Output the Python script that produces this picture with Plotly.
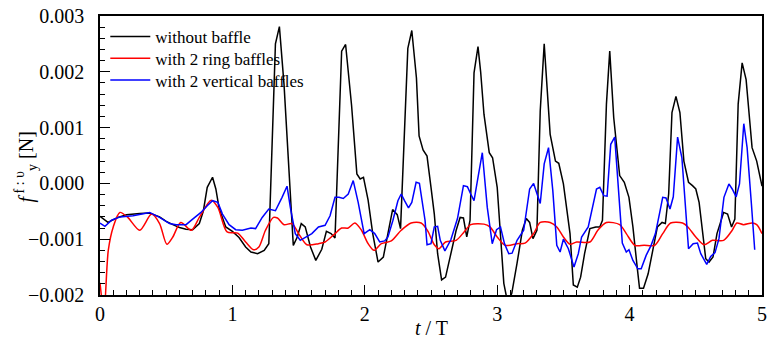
import numpy as np
import plotly.graph_objects as go

# ---------------- data (force in units of 1e-3 N) ----------------
t_without = [0.00, 0.06, 0.135, 0.20, 0.30, 0.37, 0.45, 0.50, 0.55, 0.60, 0.65, 0.70, 0.75, 0.78, 0.81,
             0.85, 0.875, 0.90, 0.95, 1.00, 1.05, 1.10, 1.14, 1.19, 1.24, 1.275, 1.325, 1.355, 1.39, 1.425,
             1.46, 1.49, 1.52, 1.55, 1.59, 1.63, 1.675, 1.71, 1.745, 1.775, 1.825, 1.855, 1.90, 1.94, 1.965,
             1.99, 2.025, 2.06, 2.10, 2.14, 2.175, 2.21, 2.245, 2.27, 2.325, 2.355, 2.39, 2.41, 2.44, 2.47,
             2.50, 2.525, 2.55, 2.58, 2.61, 2.65, 2.69, 2.72, 2.745, 2.77, 2.795, 2.825, 2.855, 2.875, 2.90,
             2.94, 2.965, 3.00, 3.05, 3.08, 3.11, 3.15, 3.19, 3.22, 3.245, 3.27, 3.30, 3.325, 3.355, 3.40,
             3.44, 3.465, 3.50, 3.55, 3.575, 3.605, 3.63, 3.66, 3.70, 3.745, 3.775, 3.795, 3.825, 3.85, 3.88,
             3.925, 3.96, 3.995, 4.025, 4.06, 4.075, 4.105, 4.14, 4.175, 4.21, 4.245, 4.27, 4.295, 4.32, 4.35,
             4.38, 4.41, 4.445, 4.475, 4.50, 4.525, 4.55, 4.575, 4.60, 4.63, 4.66, 4.71, 4.74, 4.77, 4.795,
             4.82, 4.85, 4.88, 4.925, 4.96, 5.00]
f_without = [-0.59, -0.70, -0.61, -0.56, -0.54, -0.53, -0.60, -0.68, -0.74, -0.79, -0.82, -0.83, -0.72, -0.50, -0.07,
             0.11, -0.10, -0.45, -0.78, -0.86, -0.97, -1.14, -1.23, -1.26, -1.20, -1.08, 2.50, 2.81, 1.77, 0.30,
             -1.11, -0.96, -0.72, -0.78, -1.14, -1.38, -1.18, -0.86, -0.90, -0.98, 2.37, 2.49, 1.40, 0.17, 0.08,
             0.11, -0.30, -0.90, -1.41, -1.32, -0.90, -0.47, -0.56, -0.81, 2.42, 2.74, 1.89, 0.85, 0.60, 0.49,
             -0.07, -0.55, -1.26, -1.73, -1.68, -1.26, -0.84, -0.61, -0.62, -0.96, -0.66, 1.98, 2.45, 2.00, 1.24,
             0.55, 0.46, -0.07, -1.79, -2.15, -1.97, -1.43, -0.84, -0.63, -0.70, -0.99, -0.84, 1.30, 2.50, 0.88,
             0.40, 0.36, -0.01, -0.90, -1.82, -1.86, -1.68, -1.26, -0.81, -0.78, -0.78, -0.66, 1.42, 2.37, 1.18,
             0.14, 0.02, -0.25, -0.78, -1.56, -1.88, -1.88, -1.62, -1.20, -0.78, -0.70, -0.72, -0.19, 1.27, 1.56,
             1.27, 0.40, 0.02, -0.04, -0.10, -0.34, -0.90, -1.35, -1.41, -1.32, -0.90, -0.52, -0.55, -0.78, -0.64,
             1.42, 2.16, 1.86, 0.64, 0.40, -0.05]

t_ring = [0.00, 0.03, 0.0625, 0.10, 0.15, 0.21, 0.30, 0.39, 0.45, 0.505, 0.55, 0.61, 0.69, 0.75, 0.84, 0.89,
          0.96, 1.04, 1.10, 1.16, 1.20, 1.25, 1.31, 1.34, 1.39, 1.45, 1.50, 1.5625, 1.65, 1.70, 1.775, 1.825,
          1.875, 1.925, 1.975, 2.025, 2.07, 2.125, 2.20, 2.275, 2.35, 2.425, 2.475, 2.525, 2.56, 2.61, 2.69,
          2.75, 2.80, 2.90, 2.945, 3.00, 3.06, 3.15, 3.21, 3.275, 3.325, 3.40, 3.45, 3.50, 3.55, 3.60, 3.70,
          3.76, 3.825, 3.925, 3.975, 4.04, 4.11, 4.19, 4.25, 4.31, 4.40, 4.44, 4.50, 4.5625, 4.625, 4.71,
          4.775, 4.81, 4.86, 4.925, 4.96, 5.00]
f_ring = [-1.78, -2.30, -1.20, -0.78, -0.52, -0.61, -0.84, -0.55, -0.72, -1.09, -0.96, -0.70, -0.84, -0.61, -0.30, -0.43,
          -0.87, -0.89, -1.05, -1.19, -1.14, -0.84, -0.61, -0.62, -0.74, -0.72, -0.90, -1.10, -1.08, -1.05, -0.90, -0.80,
          -0.80, -0.71, -0.84, -1.08, -1.20, -1.08, -1.03, -0.84, -0.71, -0.71, -0.85, -1.10, -1.17, -1.05, -1.02,
          -0.87, -0.74, -0.73, -0.78, -0.96, -1.11, -1.08, -1.07, -0.90, -0.70, -0.70, -0.78, -0.96, -1.09, -1.05, -1.05,
          -0.84, -0.70, -0.74, -0.90, -1.11, -1.11, -1.11, -0.90, -0.71, -0.71, -0.78, -0.96, -1.10, -1.02, -1.02,
          -0.84, -0.71, -0.74, -0.71, -0.74, -0.90]

t_vertical = [0.00, 0.0375, 0.0875, 0.15, 0.25, 0.375, 0.45, 0.525, 0.575, 0.65, 0.70, 0.7625, 0.81, 0.85, 0.89,
              0.925, 0.975, 1.025, 1.075, 1.14, 1.175, 1.225, 1.275, 1.325, 1.375, 1.4125, 1.4375, 1.475, 1.5125,
              1.55, 1.60, 1.65, 1.70, 1.7375, 1.775, 1.805, 1.8375, 1.875, 1.9125, 1.95, 1.995, 2.0375, 2.075,
              2.1125, 2.15, 2.175, 2.2125, 2.25, 2.275, 2.30, 2.33, 2.355, 2.3875, 2.4125, 2.455, 2.47, 2.50,
              2.525, 2.55, 2.57, 2.605, 2.65, 2.70, 2.745, 2.775, 2.80, 2.825, 2.855, 2.8875, 2.925, 2.9625,
              2.995, 3.025, 3.055, 3.0875, 3.1125, 3.15, 3.20, 3.245, 3.275, 3.30, 3.325, 3.355, 3.3875, 3.42,
              3.45, 3.475, 3.50, 3.5375, 3.58, 3.6125, 3.6375, 3.6875, 3.72, 3.75, 3.775, 3.805, 3.83, 3.8575,
              3.8875, 3.9125, 3.945, 3.975, 3.995, 4.025, 4.0625, 4.0875, 4.125, 4.1625, 4.195, 4.225, 4.25,
              4.275, 4.305, 4.33, 4.3625, 4.395, 4.445, 4.48, 4.5125, 4.5375, 4.5825, 4.6125, 4.645, 4.675,
              4.7125, 4.75, 4.775, 4.805, 4.83, 4.8625, 4.8875, 4.92, 4.945]
f_vertical = [-0.71, -0.77, -0.66, -0.60, -0.58, -0.52, -0.61, -0.72, -0.74, -0.74, -0.64, -0.52, -0.40, -0.31, -0.34,
              -0.55, -0.74, -0.83, -0.84, -0.80, -0.81, -0.61, -0.46, -0.49, -0.25, -0.05, -0.43, -0.90, -1.02,
              -0.97, -0.90, -0.78, -0.75, -0.58, -0.25, -0.25, -0.27, -0.19, 0.05, -0.34, -0.90, -0.83, -0.90,
              -1.05, -1.03, -0.96, -0.66, -0.31, -0.19, -0.31, -0.44, -0.34, 0.02, 0.00, -0.66, -1.10, -1.08,
              -0.78, -0.77, -1.02, -1.21, -1.01, -0.63, -0.04, -0.06, -0.19, -0.31, 0.11, 0.55, -0.43, -1.08,
              -0.83, -0.78, -1.08, -1.26, -1.25, -1.02, -0.84, -0.10, 0.00, -0.19, -0.36, 0.35, 0.64, -0.13,
              -1.11, -1.23, -1.00, -1.17, -1.50, -1.26, -0.96, -0.78, -0.43, -0.10, -0.07, -0.22, -0.23, 0.70,
              0.83, -0.07, -1.07, -1.23, -1.19, -1.38, -1.53, -1.53, -1.29, -1.11, -0.90, -0.55, -0.25,
              -0.26, -0.46, -0.24, 0.83, 0.46, -1.17, -1.08, -1.07, -1.26, -1.45, -1.31, -1.24, -0.99,
              -0.25, -0.01, -0.10, -0.24, -0.01, 1.07, 0.64, -0.37, -1.19]

series_names = ["without baffle", "with 2 ring baffles", "with 2 vertical baffles"]
x_ticks = [0, 1, 2, 3, 4, 5]
y_ticks = [-0.002, -0.001, 0.000, 0.001, 0.002, 0.003]

MILLI = 1e-3
FONT = '"Liberation Serif", "Times New Roman", Times, serif'

fig = go.Figure()
fig.add_trace(go.Scatter(x=t_without, y=np.array(f_without) * MILLI, mode="lines",
                         name=series_names[0], legend="legend",
                         line=dict(color="black", width=1.5)))
fig.add_trace(go.Scatter(x=t_ring, y=np.array(f_ring) * MILLI, mode="lines",
                         name=series_names[1], legend="legend2",
                         line=dict(color="#ff0000", width=1.5, shape="spline", smoothing=0.8)))
fig.add_trace(go.Scatter(x=t_vertical, y=np.array(f_vertical) * MILLI, mode="lines",
                         name=series_names[2], legend="legend3",
                         line=dict(color="#0000ff", width=1.5)))

leg_font = dict(family=FONT, size=17, color="black")
leg_common = dict(x=0.008, xanchor="left", yanchor="middle", bgcolor="rgba(0,0,0,0)",
                  font=leg_font, itemwidth=40)

fig.update_layout(
    width=772, height=347,
    margin=dict(l=100, r=5, t=14, b=52),
    paper_bgcolor="white", plot_bgcolor="white",
    font=dict(family=FONT, size=19, color="black"),
    showlegend=True,
    legend=dict(y=0.925, **leg_common),
    legend2=dict(y=0.847, **leg_common),
    legend3=dict(y=0.769, **leg_common),
)

tick_font = dict(family=FONT, size=20, color="black")

fig.update_xaxes(
    range=[0, 5], tickmode="array", tickvals=x_ticks, ticktext=[str(v) for v in x_ticks],
    tickfont=tick_font,
    ticks="inside", ticklen=10, tickwidth=1, tickcolor="black",
    showline=True, linewidth=1.5, linecolor="black", mirror=True,
    showgrid=False, zeroline=False, ticklabelstandoff=0,
    minor=dict(dtick=0.1, tick0=0, ticks="inside", ticklen=5, tickwidth=1, tickcolor="black", showgrid=False),
)
fig.update_yaxes(
    range=[-0.002, 0.003], tickmode="array", tickvals=y_ticks, tickformat=".3f",
    tickfont=tick_font,
    ticks="inside", ticklen=10, tickwidth=1, tickcolor="black",
    showline=True, linewidth=1.5, linecolor="black", mirror=True,
    showgrid=False, zeroline=False, ticklabelstandoff=10,
    minor=dict(dtick=0.0002, tick0=0, ticks="inside", ticklen=5, tickwidth=1, tickcolor="black", showgrid=False),
)

fig.add_annotation(text="<i>t</i> / T", xref="paper", yref="paper", x=0.5, y=-0.117,
                   xanchor="center", yanchor="middle", showarrow=False,
                   font=dict(family=FONT, size=20, color="black"))
fig.add_annotation(text="<i>f</i><sup> f : \u03c5</sup><sub>y</sub> [N]", xref="paper", yref="paper",
                   x=-0.112, y=0.46, xanchor="center", yanchor="middle", textangle=-90,
                   showarrow=False, font=dict(family=FONT, size=20, color="black"))

fig.write_html("out.html")
